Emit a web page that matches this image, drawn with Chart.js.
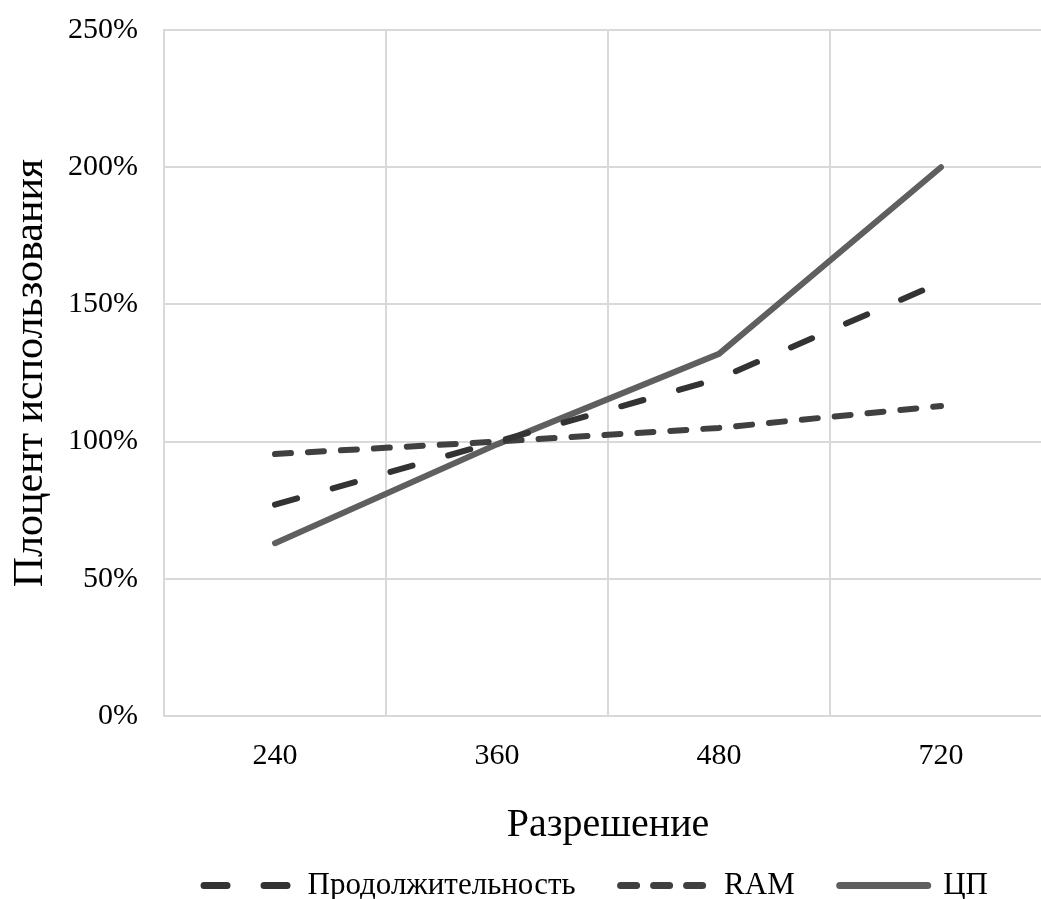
<!DOCTYPE html>
<html>
<head>
<meta charset="utf-8">
<script src="https://cdn.jsdelivr.net/npm/chart.js@4.4.1/dist/chart.umd.min.js"></script>
<style>
  html, body { margin: 0; padding: 0; background: #fff; overflow: hidden; }
  #wrap { width: 1052px; height: 899px; position: relative; }
</style>
</head>
<body>
<div id="wrap"><canvas id="chart"></canvas></div>
<script>
const resolutions = ['240', '360', '480', '720'];
const durationValues = [77, 100, 123, 158];
const ramValues = [95.5, 100, 105, 113];
const cpuValues = [63, 99, 132, 200];
const yTicks = [0, 50, 100, 150, 200, 250];

const serif = "'Liberation Serif', 'Times New Roman', serif";

// the legend in the original sits a bit right of the canvas centre
const shiftLegend = {
  id: 'shiftLegend',
  afterLayout(chart) {
    chart.legend.left += 70;
    chart.legend.right += 70;
  }
};

const ctx = document.getElementById('chart').getContext('2d');
new Chart(ctx, {
  type: 'line',
  data: {
    labels: resolutions,
    datasets: [
      {
        label: 'Продолжительность',
        data: durationValues,
        borderColor: '#333333',
        backgroundColor: '#333333',
        borderWidth: 6,
        borderDash: [23, 37],
        borderCapStyle: 'round',
        pointRadius: 0,
        pointStyle: 'line'
      },
      {
        label: 'RAM',
        data: ramValues,
        borderColor: '#404040',
        backgroundColor: '#404040',
        borderWidth: 6,
        borderDash: [16, 17],
        borderCapStyle: 'round',
        pointRadius: 0,
        pointStyle: 'line'
      },
      {
        label: 'ЦП',
        data: cpuValues,
        borderColor: '#5f5f5f',
        backgroundColor: '#5f5f5f',
        borderWidth: 6,
        borderCapStyle: 'round',
        pointRadius: 0,
        pointStyle: 'line'
      }
    ]
  },
  plugins: [shiftLegend],
  options: {
    responsive: true,
    maintainAspectRatio: false,
    animation: false,
    layout: { padding: { top: 0, right: 0, left: 0, bottom: -12 } },
    plugins: {
      tooltip: { enabled: false },
      legend: {
        position: 'bottom',
        labels: {
          usePointStyle: true,
          pointStyleWidth: 88,
          boxHeight: 6,
          padding: 45,
          color: '#000',
          font: { family: serif, size: 31 },
          generateLabels: (chart) => chart.data.datasets.map((ds, i) => ({
            text: ds.label,
            datasetIndex: i,
            pointStyle: 'line',
            strokeStyle: ds.borderColor,
            fillStyle: ds.borderColor,
            lineWidth: 7,
            lineDash: ds.borderDash || [],
            lineCap: 'round',
            fontColor: '#000',
            hidden: false
          }))
        }
      }
    },
    scales: {
      x: {
        offset: true,
        grid: { offset: true, color: '#d9d9d9', lineWidth: 2, drawTicks: false },
        border: { color: '#d9d9d9', width: 2 },
        ticks: { color: '#000', padding: 22, font: { family: serif, size: 30 } },
        title: {
          display: true,
          text: 'Разрешение',
          color: '#000',
          font: { family: serif, size: 40 },
          padding: { top: 5, bottom: -24 }
        }
      },
      y: {
        min: 0,
        max: 250,
        afterBuildTicks: (axis) => { axis.ticks = yTicks.map(v => ({ value: v })); },
        grid: { color: '#d9d9d9', lineWidth: 2, drawTicks: false },
        border: { color: '#d9d9d9', width: 2 },
        ticks: {
          color: '#000',
          padding: 26,
          // small lineHeight keeps the top tick label from pushing the plot down
          font: { family: serif, size: 30, lineHeight: 0.27 },
          callback: (v) => v + '%'
        },
        title: {
          display: true,
          text: 'Плоцент использования',
          color: '#000',
          font: { family: serif, size: 42, lineHeight: 1 },
          padding: { top: 10, bottom: -10 }
        }
      }
    }
  }
});
</script>
</body>
</html>
